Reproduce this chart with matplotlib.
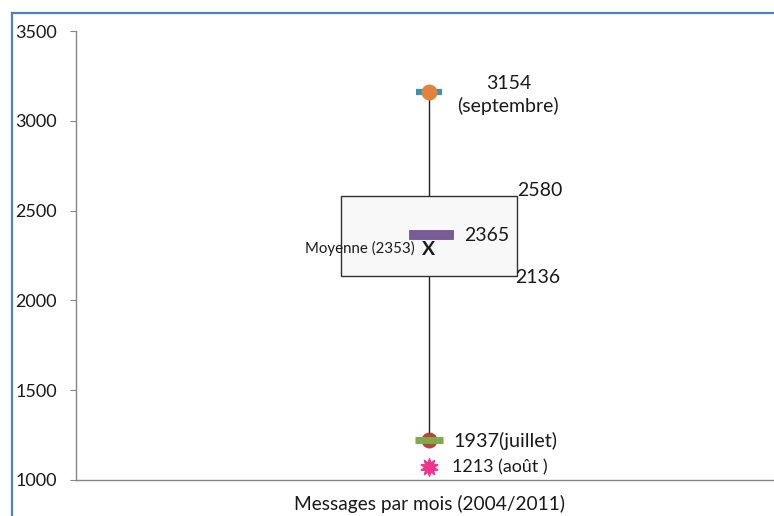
import matplotlib.pyplot as plt
from matplotlib.patches import Rectangle
from matplotlib.lines import Line2D

plt.rcParams['font.family'] = ['Lato', 'DejaVu Sans']

# valeurs
category = 'Messages par mois (2004/2011)'
q1 = 2136
q3 = 2580
median = 2365
whisker_top = 3160
whisker_bottom = 1220
outlier = 1075
mean_pos = 2290
yticks = [1000, 1500, 2000, 2500, 3000, 3500]

label_max = '3154\n(septembre)'
label_q3 = '2580'
label_med = '2365'
label_q1 = '2136'
label_mean = 'Moyenne (2353)'
label_min = '1937(juillet)'
label_out = '1213 (août )'

fig = plt.figure(figsize=(7.74, 5.16), dpi=100)
ax = fig.add_axes([76 / 774, 1 - 480 / 516, 1 - 76 / 774, (480 - 31) / 516])

xc = 1.0
half = 0.248
ax.set_xlim(0, 698 / 353)
ax.set_ylim(1000, 3500)

# moustaches
ax.plot([xc, xc], [q3, whisker_top], color='#202020', lw=1, zorder=1)
ax.plot([xc, xc], [whisker_bottom, q1], color='#202020', lw=1, zorder=1)

# boite
ax.add_patch(Rectangle((xc - half, q1), 2 * half, q3 - q1, facecolor='#f8f8f8',
                       edgecolor='#303030', lw=1, zorder=2))
ax.add_patch(Rectangle((xc - 0.057, median - 25), 0.125, 50, facecolor='#7a5c98',
                       edgecolor='#5f4680', lw=0.5, zorder=3))

# max
ax.plot([xc], [whisker_top], marker='_', ms=19, mew=4.5, color='#3d93ae', zorder=3)
ax.plot([xc], [whisker_top], marker='o', ms=10.5, color='#e0843c', zorder=4)
# min
ax.plot([xc], [whisker_bottom], marker='o', ms=10.5, color='#b24a3a', zorder=3)
ax.plot([xc], [whisker_bottom], marker='_', ms=19.5, mew=5, color='#82a94a', zorder=4)
# valeur extreme
ax.plot([xc], [outlier], marker=(10, 1, 0), ms=13, color='#f0338c', zorder=4)

tc = '#1a1a1a'
fs = 14
ax.text(xc + 0.225, 3145, label_max, fontsize=fs, ha='center', va='center',
        linespacing=1.35, color=tc)
ax.text(xc + 0.25, q3 + 30, label_q3, fontsize=fs, ha='left', va='center', color=tc)
ax.text(xc + 0.1, median - 5, label_med, fontsize=fs, ha='left', va='center', color=tc)
ax.text(xc + 0.245, q1 - 10, label_q1, fontsize=fs, ha='left', va='center', color=tc)
ax.text(xc - 0.04, mean_pos, label_mean, fontsize=10.8, ha='right', va='center', color=tc)
ax.text(xc - 0.002, mean_pos - 5, 'X', fontsize=14, fontweight='bold', ha='center',
        va='center', color=tc)
ax.text(xc + 0.07, whisker_bottom, label_min, fontsize=14.2, ha='left', va='center', color=tc)
ax.text(xc + 0.065, outlier - 5, label_out, fontsize=12.9, ha='left', va='center', color=tc)

# axes
for s in ['top', 'right']:
    ax.spines[s].set_visible(False)
for s in ['left', 'bottom']:
    ax.spines[s].set_color('#868686')
    ax.spines[s].set_linewidth(1)
ax.set_yticks(yticks)
ax.tick_params(axis='y', direction='out', length=4.3, color='#868686', labelsize=13,
               pad=39.5, labelcolor=tc)
for lab in ax.get_yticklabels():
    lab.set_horizontalalignment('left')
ax.set_xticks([xc])
ax.set_xticklabels([category])
ax.tick_params(axis='x', length=0, labelsize=13.8, pad=11, labelcolor=tc)

# cadre bleu
fig.add_artist(Line2D([12 / 774, 1], [1 - 13 / 516, 1 - 13 / 516], color='#4f81bd', lw=1.6))
fig.add_artist(Line2D([12 / 774, 12 / 774], [0, 1 - 13 / 516], color='#4f81bd', lw=1.6))

fig.savefig('out.png', dpi=100)
